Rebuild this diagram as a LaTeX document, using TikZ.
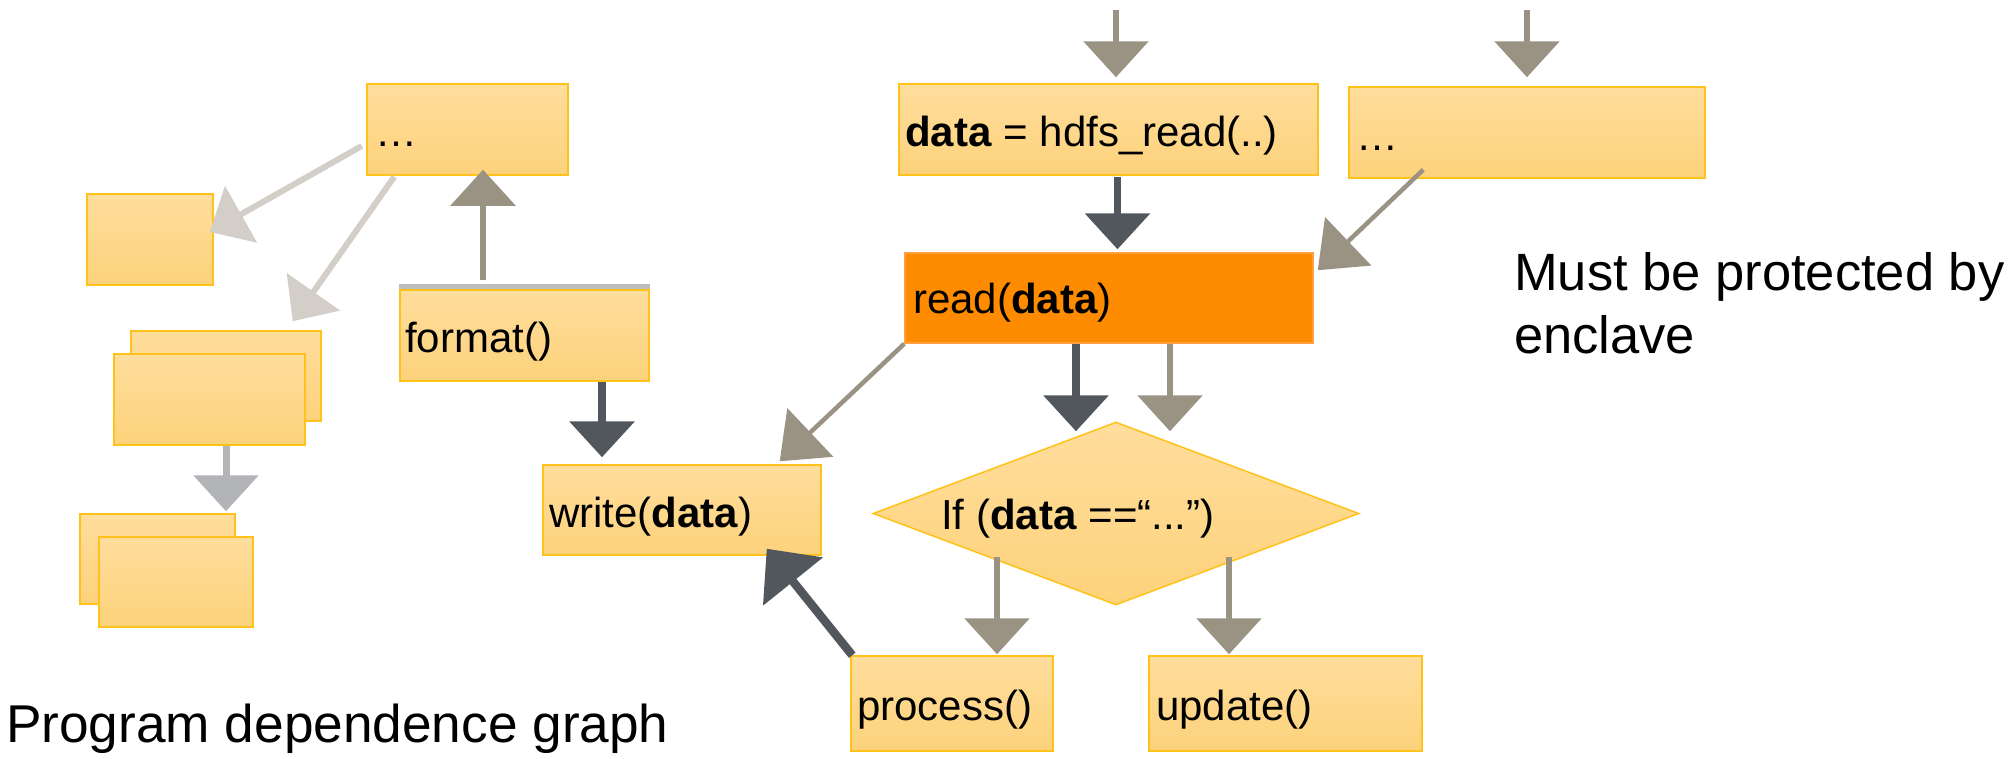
\documentclass[tikz,border=0pt]{standalone}
\usepackage{fontspec}
\setmainfont{Liberation Sans}
\usetikzlibrary{arrows.meta,shapes.geometric,calc}

\definecolor{boxtop}{HTML}{FFDD9C}
\definecolor{boxbot}{HTML}{FDD27B}
\definecolor{boxedge}{HTML}{FFC21A}
\definecolor{hotfill}{HTML}{FF8C00}
\definecolor{hotedge}{HTML}{FFA040}
\definecolor{arrgray}{HTML}{9A9383}
\definecolor{arrdark}{HTML}{52565D}
\definecolor{arrlight}{HTML}{D3CFC8}
\definecolor{arrmid}{HTML}{B3B4B7}
\definecolor{barcol}{HTML}{BEBEBE}

\tikzset{
  box/.style={rectangle, draw=boxedge, line width=1.5pt,
    top color=boxtop, bottom color=boxbot, inner sep=0pt},
  hotbox/.style={rectangle, draw=hotedge, line width=1.5pt,
    fill=hotfill, inner sep=0pt},
  decision/.style={diamond, draw=boxedge, line width=1.5pt,
    top color=boxtop, bottom color=boxbot, inner sep=0pt},
  lbl/.style={anchor=base west, inner sep=0pt, font=\fontsize{42}{50}\selectfont},
  biglbl/.style={anchor=base west, inner sep=0pt, font=\fontsize{52.5}{62}\selectfont},
  headstd/.style={-{Triangle[length=36pt,width=64pt]}},
  headdiag/.style={-{Triangle[length=42pt,width=66pt]}},
  headbig/.style={-{Triangle[length=42pt,width=75pt]}},
  grayv/.style={headstd, draw=arrgray, line width=6.5pt},
  darkv/.style={headstd, draw=arrdark, line width=7.5pt},
  midv/.style={headstd, draw=arrmid, line width=7pt},
  graydiag/.style={headdiag, draw=arrgray, line width=4.5pt},
  lightdiag/.style={headstd, draw=arrlight, line width=6pt},
  darkdiag/.style={headbig, draw=arrdark, line width=8.5pt},
}

\begin{document}
\begin{tikzpicture}[x=1pt, y=-1pt]
\useasboundingbox (0,0) rectangle (2010,758);

% ---- left part of the graph ----
\node[box, minimum width=201pt, minimum height=91pt] (A) at (467.5,129.5) {};
\node[box, minimum width=126pt, minimum height=91pt] (B) at (150,239.5) {};
\node[box, minimum width=190pt, minimum height=90pt] (Cb) at (226,376) {};
\node[box, minimum width=191pt, minimum height=91pt] (Cf) at (209.5,399.5) {};
\node[box, minimum width=155pt, minimum height=90pt] (Db) at (157.5,559) {};
\node[box, minimum width=154pt, minimum height=90pt] (Df) at (176,582) {};
\node[box, minimum width=249pt, minimum height=91pt] (format) at (524.5,335.5) {};
\draw[barcol, line width=5pt] ([yshift=3pt]format.north west) -- ([yshift=3pt]format.north east);
\node[box, minimum width=278pt, minimum height=90pt] (write) at (682,510) {};

% ---- right part of the graph ----
\node[box, minimum width=419pt, minimum height=91pt] (hdfs) at (1108.5,129.5) {};
\node[box, minimum width=356pt, minimum height=91pt] (dots) at (1527,132.5) {};
\node[hotbox, minimum width=408pt, minimum height=90pt] (read) at (1109,298) {};
\node[decision, minimum width=486pt, minimum height=183pt] (cond) at (1116,513.5) {};
\node[box, minimum width=202pt, minimum height=95pt] (process) at (952,703.5) {};
\node[box, minimum width=273pt, minimum height=95pt] (update) at (1285.5,703.5) {};

% ---- labels ----
\node[lbl] (tA) at (375,146) {…};
\node[lbl] (tformat) at (405,352) {format()};
\node[lbl] (twrite) at (549,527) {write(\textbf{data})};
\node[lbl] (thdfs) at (905,146) {\textbf{data} = hdfs\_read(..)};
\node[lbl] (tdots) at (1356,150) {…};
\node[lbl] (tread) at (913,313) {read(\textbf{data})};
\node[lbl] (tcond) at (941,529) {If (\textbf{data} ==“...”)};
\node[lbl] (tprocess) at (857,720) {process()};
\node[lbl] (tupdate) at (1156,720) {update()};
\node[biglbl, font=\fontsize{53.2}{62}\selectfont] (tpdg) at (6,742) {Program dependence graph};
\node[biglbl] (tmust1) at (1514,290) {Must be protected by};
\node[biglbl] (tmust2) at (1514,353) {enclave};

% ---- incoming edges from above ----
\coordinate (in1) at (1116,10);
\coordinate (in2) at (1527,10);
\draw[grayv] (in1) -- ($(hdfs.north)+(7.5,-6)$);
\draw[grayv] (in2) -- ($(dots.north)+(0,-9)$);

% ---- edges, right part ----
\draw[darkv] ($(hdfs.south)+(9,1)$) -- ($(read.north)+(8.5,-3)$);
\draw[graydiag] ($(dots.south west)+(75,-9)$) -- ($(read.north east)+(4,18)$);
\draw[graydiag] (read.south west) -- ($(write.north east)+(-42,-3)$);
\draw[darkv] ($(read.south)+(-33,0)$) -- ($(cond.north)+(-40,10)$);
\draw[grayv] ($(read.south)+(61,0)$) -- ($(cond.north)+(54,10)$);
\draw[grayv] ($(cond.center)+(-119,43.5)$) -- ($(process.north)+(45,-1)$);
\draw[grayv] ($(cond.center)+(113,43.5)$) -- ($(update.north)+(-56.5,-1)$);
\draw[darkdiag] ($(process.north west)+(2,0)$) -- ($(write.south east)+(-55,-7)$);

% ---- edges, left part ----
\draw[darkv] ($(format.south)+(77.5,0)$) -- ($(write.north)+(-80,-7)$);
\draw[grayv] ($(format.north)+(-41.5,-9)$) -- ($(A.south)+(15.5,-6)$);
\draw[lightdiag] ($(A.west)+(-4.5,16.5)$) -- ($(B.east)+(-4,-7.5)$);
\draw[lightdiag] ($(A.south west)+(28,1)$) -- ($(Cb.north east)+(-29,-9)$);
\draw[midv] ($(Cf.south)+(16.5,0)$) -- ($(Db.north)+(68.5,-2)$);
\end{tikzpicture}
\end{document}
